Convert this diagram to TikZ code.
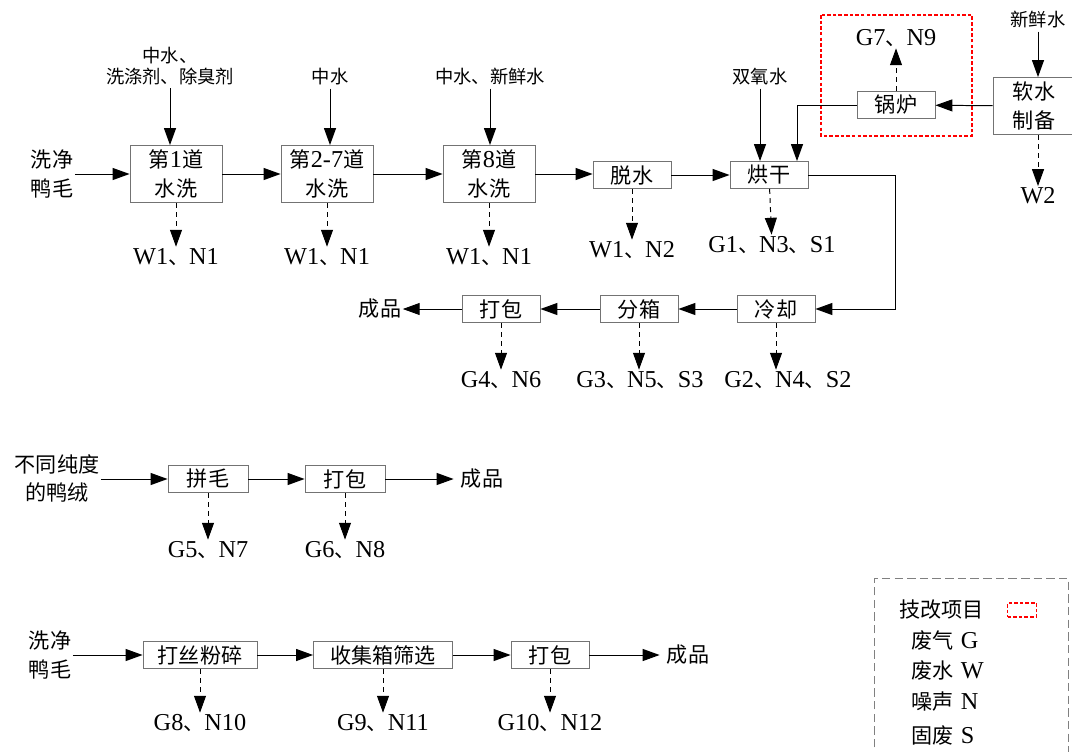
\documentclass[tikz,border=0pt]{standalone}
\usepackage[dvipsnames,svgnames]{xcolor}
\usepackage{fontspec}
\setmainfont{Noto Sans CJK SC}
\newfontfamily\latin{Liberation Serif}[Scale=1.15]
\newcommand\en[1]{{\latin #1}}
\usetikzlibrary{arrows.meta}

\tikzset{
  box/.style={draw=black!55,line width=0.6pt,minimum height=0.675cm,
    minimum width=1.95cm,inner sep=0pt,font=\fontsize{15}{20}\selectfont},
  tall/.style={box,minimum width=2.3cm,minimum height=1.425cm,align=center,
    font=\fontsize{15}{20.5}\selectfont},
  txt/.style={inner sep=1pt,align=center,font=\fontsize{15}{20}\selectfont},
  small/.style={inner sep=2pt,align=center,font=\fontsize{13}{15.5}\selectfont},
  emit/.style={inner sep=1pt,font=\fontsize{15}{18}\selectfont},
  arr/.style={-{Triangle[length=12pt,width=8.5pt]},line width=0.7pt},
  darr/.style={arr,dash pattern=on 3.5pt off 3pt},
  tgt/.style={draw=red,line width=1.2pt,dash pattern=on 2.5pt off 1.5pt}
}

\begin{document}
\begin{tikzpicture}[x=0.025cm,y=-0.025cm]
  \useasboundingbox (0,0) rectangle (1072,751);
  % washing line
  \node[txt] (in1) at (52,174) {洗净\\鸭毛};
  \node[tall] (w1) at (176,174) {第\en{1}道\\水洗};
  \node[tall] (w2) at (327,174) {第\en{2-7}道\\水洗};
  \node[tall] (w3) at (489,174) {第\en{8}道\\水洗};
  \node[box] (dw) at (632,175) {脱水};
  \node[box] (dry) at (769,175) {烘干};
  \node[small] (t1) at (170,66) {中水、\\洗涤剂、除臭剂};
  \node[small] (t2) at (330,77) {中水};
  \node[small] (t3) at (490,77) {中水、新鲜水};
  \node[small] (t4) at (760,77) {双氧水};
  \node[emit] (e1) at (176,257) {\en{W1}、\en{N1}};
  \node[emit] (e2) at (327,257) {\en{W1}、\en{N1}};
  \node[emit] (e3) at (489,257) {\en{W1}、\en{N1}};
  \node[emit] (e4) at (632,250) {\en{W1}、\en{N2}};
  \node[emit] (e5) at (772,245) {\en{G1}、\en{N3}、\en{S1}};
  \draw[arr] (in1) -- (w1);
  \draw[arr] (w1) -- (w2);
  \draw[arr] (w2) -- (w3);
  \draw[arr] (w3.east) -- (w3.east -| dw.west);
  \draw[arr] (dw) -- (dry);
  \draw[arr] (t1) -- (t1 |- w1.north);
  \draw[arr] (t2) -- (t2 |- w2.north);
  \draw[arr] (t3) -- (t3 |- w3.north);
  \draw[arr] (t4) -- (t4 |- dry.north);
  \foreach \a/\b in {w1/e1,w2/e2,w3/e3,dw/e4,dry/e5}
    \draw[darr] (\a) -- (\b);
  % boiler
  \draw[tgt] (821,15) rectangle (972,136);
  \node[box] (boil) at (896,105) {锅炉};
  \node[tall,minimum width=2.05cm] (soft) at (1034,106) {软水\\制备};
  \node[small] (fw) at (1038,20) {新鲜水};
  \node[emit] (g7) at (896,38) {\en{G7}、\en{N9}};
  \node[emit] (w2o) at (1038,196) {\en{W2}};
  \coordinate (s1) at (797,0);
  \draw[arr] (fw) -- (fw |- soft.north);
  \draw[arr] (soft) -- (boil);
  \draw[darr] (boil) -- (g7);
  \draw[darr] (soft.south -| w2o) -- (w2o);
  \draw[arr] (boil) -| (s1 |- dry.north);
  % packing line
  \node[box] (cool) at (776,309) {冷却};
  \node[box] (fen) at (639,309) {分箱};
  \node[box] (pk1) at (501,309) {打包};
  \node[txt] (out1) at (380,309) {成品};
  \node[emit] (e6) at (788,380) {\en{G2}、\en{N4}、\en{S2}};
  \node[emit] (e7) at (640,380) {\en{G3}、\en{N5}、\en{S3}};
  \node[emit] (e8) at (501,380) {\en{G4}、\en{N6}};
  \coordinate (s2) at (895,0);
  \draw[arr] (dry) -- (dry -| s2) |- (cool);
  \draw[arr] (cool) -- (fen);
  \draw[arr] (fen) -- (pk1);
  \draw[arr] (pk1) -- (out1);
  \draw[darr] (cool) -- (cool |- e6.north);
  \draw[darr] (fen) -- (fen |- e7.north);
  \draw[darr] (pk1) -- (e8);
  % down line
  \node[txt] (in2) at (57,479) {不同纯度\\的鸭绒};
  \node[box,minimum width=2cm] (mix) at (208,479) {拼毛};
  \node[box,minimum width=2cm] (pk2) at (345,479) {打包};
  \node[txt,inner sep=5pt] (out2) at (482,479) {成品};
  \node[emit] (e9) at (208,550) {\en{G5}、\en{N7}};
  \node[emit] (e10) at (345,550) {\en{G6}、\en{N8}};
  \draw[arr] (in2) -- (mix);
  \draw[arr] (mix) -- (pk2);
  \draw[arr] (pk2) -- (out2);
  \draw[darr] (mix) -- (e9);
  \draw[darr] (pk2) -- (e10);
  % feather line
  \node[txt] (in3) at (50,655) {洗净\\鸭毛};
  \node[box,minimum width=2.85cm] (crush) at (200,655) {打丝粉碎};
  \node[box,minimum width=3.475cm] (sieve) at (383,655) {收集箱筛选};
  \node[box] (pk3) at (550,655) {打包};
  \node[txt,inner sep=5pt] (out3) at (688,655) {成品};
  \node[emit] (e11) at (200,723) {\en{G8}、\en{N10}};
  \node[emit] (e12) at (383,723) {\en{G9}、\en{N11}};
  \node[emit] (e13) at (550,723) {\en{G10}、\en{N12}};
  \draw[arr] (in3) -- (crush);
  \draw[arr] (crush) -- (sieve);
  \draw[arr] (sieve) -- (pk3);
  \draw[arr] (pk3) -- (out3);
  \foreach \a/\b in {crush/e11,sieve/e12,pk3/e13}
    \draw[darr] (\a) -- (\b);
  % legend
  \draw[gray,line width=0.6pt,dash pattern=on 6pt off 3pt] (874,760) |- (1068,578) -- (1068,760);
  \node[txt,anchor=west] (k0) at (898,610) {技改项目};
  \node[tgt,minimum width=0.725cm,minimum height=0.35cm,inner sep=0pt] (k5) at (1022,610) {};
  \node[txt,anchor=west] (k1) at (910,640) {废气\hspace{5pt}\en{G}};
  \node[txt,anchor=west] (k2) at (910,670) {废水\hspace{5pt}\en{W}};
  \node[txt,anchor=west] (k3) at (910,702) {噪声\hspace{5pt}\en{N}};
  \node[txt,anchor=west] (k4) at (910,735) {固废\hspace{5pt}\en{S}};
\end{tikzpicture}
\end{document}
